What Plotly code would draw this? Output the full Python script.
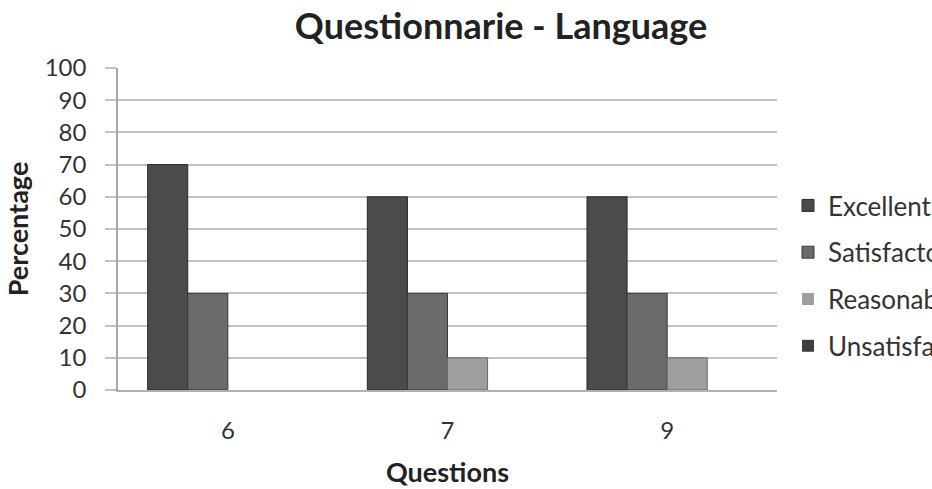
import plotly.graph_objects as go

categories = ["6", "7", "9"]
series_names = ["Excellent", "Satisfactory", "Reasonable", "Unsatisfactory"]
excellent = [70, 60, 60]
satisfactory = [30, 30, 30]
reasonable = [0, 10, 10]
unsatisfactory = [0, 0, 0]
y_ticks = [0, 10, 20, 30, 40, 50, 60, 70, 80, 90, 100]

values = [excellent, satisfactory, reasonable, unsatisfactory]
fills = ["#4b4b4b", "#6b6b6b", "#9e9e9e", "#3e3e3e"]
edges = ["#2a2a2a", "#3a3a3a", "#6a6a6a", "#222222"]

FONT = "Lato"

fig = go.Figure()
for i, (name, vals) in enumerate(zip(series_names, values)):
    fig.add_trace(go.Bar(
        x=categories, y=vals, name=name,
        legendgroup=name,
        marker=dict(color=fills[i],
                    line=dict(color=edges[i], width=[1 if v > 0 else 0 for v in vals])),
        hoverinfo="skip",
    ))

fig.update_layout(
    width=932, height=489,
    margin=dict(l=118, r=155, t=68, b=99, autoexpand=False),
    paper_bgcolor="white", plot_bgcolor="white",
    barmode="group", bargap=0.27, bargroupgap=0,
    font=dict(family=FONT, color="#333333"),
    title=dict(text="<b>Questionnarie - Language</b>", x=0.5376, xanchor="center",
               y=1 - 26 / 489, yanchor="middle", yref="container",
               font=dict(family=FONT, size=36, color="#222222")),
    legend=dict(x=1.0167, xanchor="left", y=0.646, yanchor="top",
                font=dict(family=FONT, size=26, color="#333333"),
                tracegroupgap=10, bgcolor="rgba(0,0,0,0)"),
    showlegend=True,
)
fig.update_yaxes(
    range=[0, 100], tickvals=y_ticks, ticktext=[str(v) for v in y_ticks],
    showgrid=True, gridcolor="#c2c2c2", gridwidth=1.5,
    showline=True, linecolor="#a8a8a8", linewidth=1.5,
    ticks="outside", ticklen=11, tickcolor="#c2c2c2", tickwidth=1.5,
    ticklabelstandoff=14,
    tickfont=dict(family=FONT, size=24, color="#333333"),
    title=dict(text="<b>Percentage</b>", font=dict(family=FONT, size=27, color="#222222"), standoff=8),
    zeroline=False, automargin=False,
)
fig.update_xaxes(
    showgrid=False, showline=True, linecolor="#b0b0b0", linewidth=1.5,
    ticks="", ticklabelstandoff=18,
    tickfont=dict(family=FONT, size=24, color="#333333"),
    title=dict(text="<b>Questions</b>", font=dict(family=FONT, size=27, color="#222222"), standoff=21),
    automargin=False,
)

fig.write_html("out.html")
